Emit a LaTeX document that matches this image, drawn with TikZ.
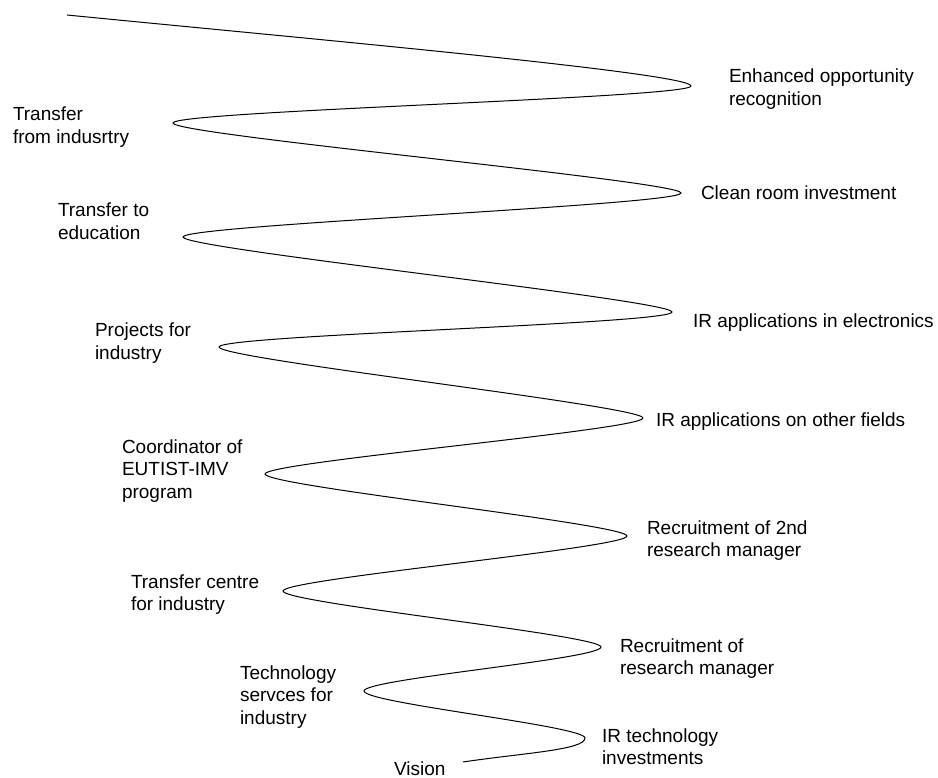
\documentclass[tikz,border=0pt]{standalone}
\usepackage{fontspec}
\setmainfont{Liberation Sans}
\newcommand{\lbl}[1]{\begin{tabular}[t]{@{}l@{}}#1\end{tabular}}
\begin{document}
\begin{tikzpicture}[x=1pt,y=-1pt,
  lab/.style={anchor=base west,inner sep=0pt,outer sep=0pt,font=\fontsize{19}{22.5}\selectfont,text=black},
  spiral/.style={line width=1pt,black}]
\useasboundingbox[fill=white] (0,0) rectangle (938,778);
% turning points
\coordinate (s)  at (67,15);
\coordinate (r1) at (691,86);
\coordinate (l1) at (173,123);
\coordinate (r2) at (681,193);
\coordinate (l2) at (183,237);
\coordinate (r3) at (672,312);
\coordinate (l3) at (219,347);
\coordinate (r4) at (643,418);
\coordinate (l4) at (265,474);
\coordinate (r5) at (627,536);
\coordinate (l5) at (283,591);
\coordinate (r6) at (601,647);
\coordinate (l6) at (364,691);
\coordinate (r7) at (585,738);
\coordinate (e)  at (463,762);
\draw[spiral] (s)
  .. controls (300,38) and (691,73) .. (r1)
  .. controls (691,98) and (173,111) .. (l1)
  .. controls (173,135) and (681,181) .. (r2)
  .. controls (681,205) and (183,225) .. (l2)
  .. controls (183,249) and (672,300) .. (r3)
  .. controls (672,324) and (219,335) .. (l3)
  .. controls (219,359) and (643,406) .. (r4)
  .. controls (643,430) and (265,462) .. (l4)
  .. controls (265,486) and (627,524) .. (r5)
  .. controls (627,548) and (283,579) .. (l5)
  .. controls (283,603) and (601,635) .. (r6)
  .. controls (601,659) and (364,679) .. (l6)
  .. controls (364,703) and (585,726) .. (r7)
  .. controls (585,750) and (523,753) .. (e);
% right labels
\node[lab] (t1) at (729,83)  {\lbl{Enhanced opportunity\\recognition}};
\node[lab] (t2) at (701,200) {\lbl{Clean room investment}};
\node[lab] (t3) at (693,327) {\lbl{IR applications in electronics}};
\node[lab] (t4) at (656,426) {\lbl{IR applications on other fields}};
\node[lab] (t5) at (647,534) {\lbl{Recruitment of 2nd\\research manager}};
\node[lab] (t6) at (620,652) {\lbl{Recruitment of\\research manager}};
\node[lab] (t7) at (602,742) {\lbl{IR technology\\investments}};
% left labels
\node[lab] (u1) at (13,121)  {\lbl{Transfer\\from indusrtry}};
\node[lab] (u2) at (58,217)  {\lbl{Transfer to\\education}};
\node[lab] (u3) at (95,337)  {\lbl{Projects for\\industry}};
\node[lab] (u4) at (122,453) {\lbl{Coordinator of\\EUTIST-IMV\\program}};
\node[lab] (u5) at (131,588) {\lbl{Transfer centre\\for industry}};
\node[lab] (u6) at (240,679) {\lbl{Technology\\servces for\\industry}};
\node[lab] (v)  at (394,775.5) {Vision};
\end{tikzpicture}
\end{document}
